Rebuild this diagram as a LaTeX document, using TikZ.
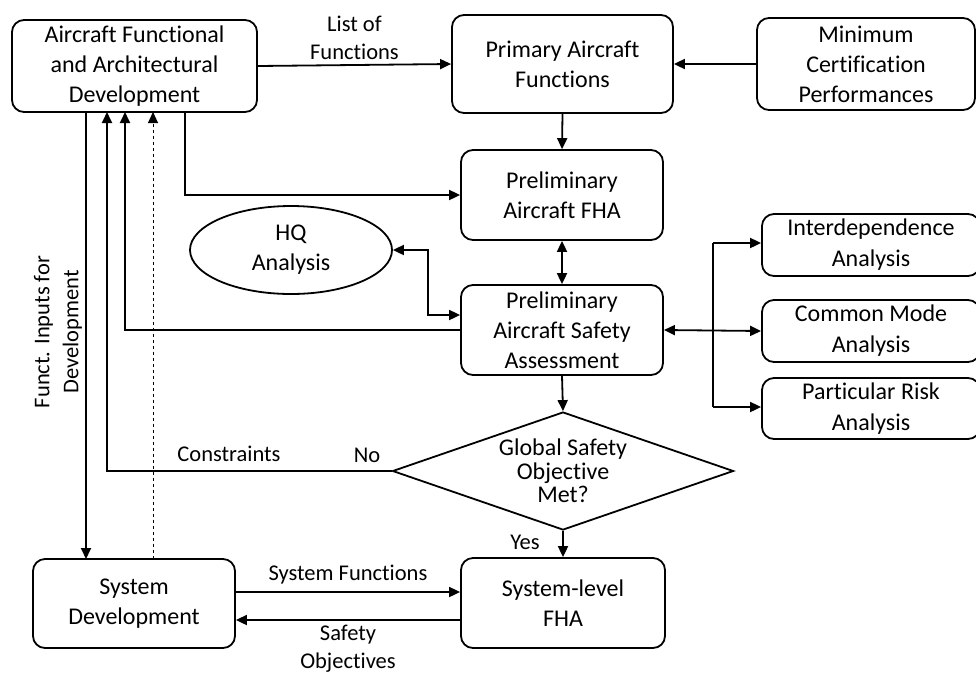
\documentclass[tikz,border=0pt]{standalone}
\usepackage{fontspec}
\setmainfont{Carlito}[Ligatures={NoCommon}]
\usetikzlibrary{arrows.meta,shapes.geometric,calc}
\begin{document}
\begin{tikzpicture}[x=1pt,y=-1pt,
  every node/.style={font=\fontsize{24}{30}\selectfont, align=center, inner sep=0pt},
  box/.style={draw, line width=1.8pt, rounded corners=12pt},
  arr/.style={line width=1.8pt, -{Triangle[length=11pt,width=10pt]}},
  darr/.style={line width=1.8pt, {Triangle[length=11pt,width=10pt]}-{Triangle[length=11pt,width=10pt]}},
  plain/.style={line width=1.8pt},
  lbl/.style={font=\fontsize{22.5}{28}\selectfont}]
\useasboundingbox (0,0) rectangle (976,673);
\clip (0,0) rectangle (976,673);
% boxes
\node[box, minimum width=245, minimum height=92] (afad) at (134.5,66) {Aircraft Functional\\and Architectural\\Development};
\node[box, minimum width=221, minimum height=98] (paf) at (562.5,64) {Primary Aircraft\\Functions};
\node[box, minimum width=218, minimum height=92] (mcp) at (866,64) {Minimum\\Certification\\Performances};
\node[box, minimum width=202, minimum height=90] (fha) at (562,195) {Preliminary\\Aircraft FHA};
\node[box, minimum width=202, minimum height=90] (pasa) at (562,330) {Preliminary\\Aircraft Safety\\Assessment};
\node[draw, line width=1.8pt, ellipse, minimum width=202, minimum height=88] (hq) at (291,250) {HQ\\Analysis};
\node[draw, line width=1.8pt, diamond, minimum width=341, minimum height=118] (gso) at (563,471) {};
\node[font=\fontsize{24}{23.5}\selectfont] (gsot) at (563,471) {Global Safety\\Objective\\Met?};
\node[box, minimum width=218, minimum height=62, font=\fontsize{24}{31}\selectfont] (ida) at (871,245) {Interdependence\\Analysis};
\node[box, minimum width=218, minimum height=62, font=\fontsize{24}{31}\selectfont] (cma) at (871,331) {Common Mode\\Analysis};
\node[box, minimum width=218, minimum height=61, font=\fontsize{24}{31}\selectfont] (pra) at (871,408.5) {Particular Risk\\Analysis};
\node[box, minimum width=202, minimum height=89] (sd) at (134,603.5) {System\\Development};
\node[box, minimum width=204, minimum height=90] (sfha) at (563,603) {System-level\\FHA};
% coordinates
\coordinate (a185) at (185,112);
\coordinate (a125) at (125,112);
\coordinate (a107) at (107,112);
\coordinate (a86) at (86,112);
\coordinate (a153) at (153,112);
\coordinate (s86) at (86,559);
\coordinate (s153) at (153,559);
\coordinate (hqk) at (428,315);
\coordinate (bus) at (713,243);
\coordinate (busb) at (713,407);
% connectors
\draw[arr] (afad.east) -- (paf.west) node[midway, above=4pt, lbl] {List of\\Functions};
\draw[arr] (mcp.west) -- (paf.east);
\draw[arr] (paf.south) -- (fha.north);
\draw[arr] (a185) |- (fha.west);
\draw[darr] (fha.south) -- (pasa.north);
\draw[darr] (hq.east) -| (hqk) -- (hqk -| pasa.west);
\draw[arr] (pasa.west) -| (a125);
\draw[arr] (gso.west) -| (a107);
\draw[arr] (a86) -- (s86);
\draw[line width=1pt, dashed, -{Triangle[length=11pt,width=10pt]}] (s153) -- (a153);
\draw[arr] (pasa.south) -- (gso.north);
\draw[arr] (gso.south) -- (sfha.north);
\draw[arr] ($(sd.east)+(0,-11.5)$) -- ($(sfha.west)+(0,-11)$);
\draw[arr] ($(sfha.west)+(0,17)$) -- ($(sd.east)+(0,16.5)$);
\draw[darr] (pasa.east) -- (cma.west);
\draw[plain] (bus) -- (busb);
\draw[arr] (bus) -- (bus -| ida.west);
\draw[arr] (busb) -- (busb -| pra.west);
% labels
\node[lbl] (lconstr) at (229,454) {Constraints};
\node[lbl] (lno) at (367,455) {No};
\node[lbl] (lyes) at (525,542) {Yes};
\node[lbl] (lsf) at (348,575) {System Functions};
\node[lbl] (lso) at (348,649) {Safety\\Objectives};
\node[rotate=90, font=\fontsize{22.5}{29}\selectfont] (lfi) at (58,332) {Funct. Inputs for\\Development};
\end{tikzpicture}
\end{document}
